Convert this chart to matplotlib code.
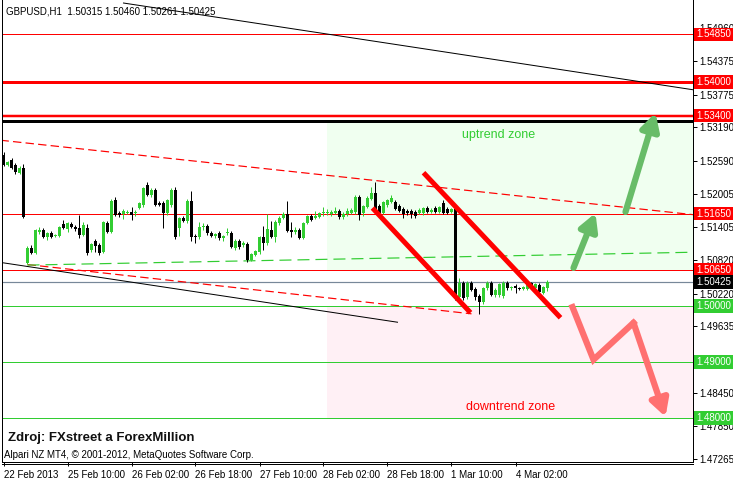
import numpy as np
import matplotlib
matplotlib.use('Agg')
import matplotlib.pyplot as plt
from matplotlib.transforms import blended_transform_factory
from matplotlib.lines import Line2D

plt.rcParams['font.family'] = ['Liberation Sans', 'DejaVu Sans']

# ---------------------------- data (H1 candles) ---------------------------- #
opens = [
    1.5270, 1.5252, 1.5261, 1.5252, 1.5238, 1.5246, 1.5077, 1.5104, 1.5095, 1.5132,
    1.5136, 1.5123, 1.5130, 1.5125, 1.5125, 1.5146, 1.5138, 1.5146, 1.5141, 1.5139,
    1.5127, 1.5139, 1.5100, 1.5116, 1.5109, 1.5096, 1.5148, 1.5132, 1.5189, 1.5166,
    1.5164, 1.5166, 1.5168, 1.5166, 1.5175, 1.5180, 1.5216, 1.5198, 1.5207, 1.5184,
    1.5184, 1.5166, 1.5180, 1.5207, 1.5139, 1.5157, 1.5152, 1.5188, 1.5125, 1.5123,
    1.5141, 1.5143, 1.5130, 1.5125, 1.5130, 1.5121, 1.5130, 1.5130, 1.5104, 1.5116,
    1.5109, 1.5111, 1.5082, 1.5091, 1.5096, 1.5123, 1.5113, 1.5136, 1.5123, 1.5148,
    1.5157, 1.5164, 1.5136, 1.5132, 1.5136, 1.5121, 1.5148, 1.5161, 1.5157, 1.5159,
    1.5166, 1.5166, 1.5164, 1.5166, 1.5170, 1.5159, 1.5164, 1.5166, 1.5168, 1.5195,
    1.5166, 1.5177, 1.5191, 1.5202, 1.5179, 1.5166, 1.5180, 1.5186, 1.5186, 1.5179,
    1.5173, 1.5170, 1.5170, 1.5168, 1.5166, 1.5166, 1.5175, 1.5168, 1.5175, 1.5168,
    1.5184, 1.5173, 1.5168, 1.5173, 1.5016, 1.5041, 1.5016, 1.5041, 1.5030, 1.5018,
    1.5007, 1.5032, 1.5041, 1.5020, 1.5020, 1.5018, 1.5041, 1.5032, 1.5036, 1.5032,
    1.5030, 1.5030, 1.5041, 1.5032, 1.5038, 1.5023, 1.50315]
highs = [
    1.5275, 1.5259, 1.5264, 1.5255, 1.5250, 1.5254, 1.5107, 1.5109, 1.5138, 1.5141,
    1.5139, 1.5132, 1.5134, 1.5129, 1.5143, 1.5154, 1.5150, 1.5150, 1.5145, 1.5163,
    1.5150, 1.5146, 1.5113, 1.5120, 1.5113, 1.5152, 1.5152, 1.5191, 1.5195, 1.5170,
    1.5173, 1.5171, 1.5177, 1.5171, 1.5186, 1.5213, 1.5221, 1.5211, 1.5211, 1.5188,
    1.5188, 1.5191, 1.5211, 1.5213, 1.5159, 1.5161, 1.5191, 1.5205, 1.5129, 1.5150,
    1.5148, 1.5146, 1.5134, 1.5130, 1.5134, 1.5127, 1.5139, 1.5134, 1.5120, 1.5120,
    1.5116, 1.5114, 1.5095, 1.5100, 1.5125, 1.5143, 1.5164, 1.5152, 1.5154, 1.5161,
    1.5168, 1.5188, 1.5150, 1.5141, 1.5139, 1.5150, 1.5163, 1.5164, 1.5170, 1.5168,
    1.5177, 1.5173, 1.5171, 1.5177, 1.5173, 1.5168, 1.5175, 1.5175, 1.5198, 1.5198,
    1.5180, 1.5196, 1.5213, 1.5221, 1.5182, 1.5188, 1.5191, 1.5198, 1.5189, 1.5182,
    1.5177, 1.5173, 1.5173, 1.5171, 1.5175, 1.5177, 1.5179, 1.5175, 1.5179, 1.5179,
    1.5189, 1.5177, 1.5175, 1.5177, 1.5050, 1.5045, 1.5045, 1.5045, 1.5034, 1.5021,
    1.5034, 1.5045, 1.5045, 1.5032, 1.5041, 1.5045, 1.5045, 1.5036, 1.5039, 1.5034,
    1.5036, 1.5043, 1.5043, 1.5041, 1.5041, 1.5036, 1.50460]
lows = [
    1.5250, 1.5250, 1.5244, 1.5236, 1.5236, 1.5157, 1.5075, 1.5093, 1.5093, 1.5129,
    1.5121, 1.5118, 1.5121, 1.5123, 1.5123, 1.5138, 1.5132, 1.5139, 1.5134, 1.5121,
    1.5125, 1.5091, 1.5096, 1.5096, 1.5091, 1.5094, 1.5130, 1.5130, 1.5161, 1.5159,
    1.5155, 1.5164, 1.5154, 1.5161, 1.5173, 1.5177, 1.5196, 1.5195, 1.5179, 1.5179,
    1.5139, 1.5163, 1.5177, 1.5120, 1.5125, 1.5150, 1.5148, 1.5116, 1.5113, 1.5120,
    1.5136, 1.5127, 1.5123, 1.5121, 1.5118, 1.5116, 1.5127, 1.5104, 1.5100, 1.5102,
    1.5105, 1.5079, 1.5080, 1.5089, 1.5093, 1.5100, 1.5109, 1.5121, 1.5114, 1.5145,
    1.5155, 1.5132, 1.5123, 1.5129, 1.5120, 1.5120, 1.5146, 1.5152, 1.5155, 1.5157,
    1.5161, 1.5163, 1.5161, 1.5164, 1.5155, 1.5155, 1.5161, 1.5164, 1.5164, 1.5154,
    1.5161, 1.5175, 1.5189, 1.5171, 1.5163, 1.5164, 1.5177, 1.5184, 1.5171, 1.5168,
    1.5157, 1.5163, 1.5157, 1.5157, 1.5164, 1.5163, 1.5166, 1.5166, 1.5166, 1.5166,
    1.5164, 1.5164, 1.5166, 1.5011, 1.5013, 1.5011, 1.5013, 1.5027, 1.5011, 1.4986,
    1.5004, 1.5029, 1.5018, 1.5016, 1.5016, 1.5014, 1.5029, 1.5029, 1.5023, 1.5029,
    1.5029, 1.5029, 1.5032, 1.5030, 1.5020, 1.5021, 1.50261]
closes = [
    1.5252, 1.5257, 1.5246, 1.5239, 1.5246, 1.5159, 1.5104, 1.5095, 1.5136, 1.5136,
    1.5123, 1.5130, 1.5123, 1.5127, 1.5141, 1.5139, 1.5148, 1.5141, 1.5138, 1.5127,
    1.5145, 1.5095, 1.5111, 1.5107, 1.5095, 1.5150, 1.5132, 1.5188, 1.5163, 1.5163,
    1.5170, 1.5168, 1.5163, 1.5168, 1.5184, 1.5211, 1.5198, 1.5207, 1.5180, 1.5180,
    1.5166, 1.5189, 1.5207, 1.5123, 1.5157, 1.5152, 1.5188, 1.5123, 1.5123, 1.5141,
    1.5143, 1.5130, 1.5125, 1.5129, 1.5121, 1.5125, 1.5132, 1.5105, 1.5116, 1.5105,
    1.5113, 1.5082, 1.5093, 1.5098, 1.5123, 1.5113, 1.5138, 1.5123, 1.5150, 1.5157,
    1.5164, 1.5134, 1.5132, 1.5136, 1.5121, 1.5148, 1.5161, 1.5154, 1.5161, 1.5166,
    1.5168, 1.5168, 1.5168, 1.5170, 1.5159, 1.5164, 1.5170, 1.5171, 1.5195, 1.5163,
    1.5179, 1.5193, 1.5202, 1.5173, 1.5166, 1.5186, 1.5189, 1.5193, 1.5173, 1.5170,
    1.5164, 1.5166, 1.5164, 1.5161, 1.5171, 1.5175, 1.5168, 1.5171, 1.5168, 1.5177,
    1.5166, 1.5166, 1.5173, 1.5014, 1.5041, 1.5014, 1.5041, 1.5029, 1.5016, 1.5007,
    1.5032, 1.5041, 1.5020, 1.5029, 1.5039, 1.5041, 1.5032, 1.5033, 1.5032, 1.5030,
    1.5034, 1.5041, 1.5034, 1.5039, 1.5025, 1.5034, 1.50425]

time_ticks = [0, 16, 32, 48, 64, 80, 96, 112, 128]
time_labels = ['22 Feb 2013', '25 Feb 10:00', '26 Feb 02:00', '26 Feb 18:00',
               '27 Feb 10:00', '28 Feb 02:00', '28 Feb 18:00', '1 Mar 10:00',
               '4 Mar 02:00']
price_ticks = [1.54960, 1.54375, 1.53775, 1.53190, 1.52590, 1.52005, 1.51405,
               1.50820, 1.50220, 1.49635, 1.48450, 1.47850, 1.47265]

# horizontal levels
red_levels = [1.5485, 1.5400, 1.5340, 1.5165, 1.5065]
red_widths = [1, 3, 2.5, 1, 1]
green_levels = [1.5000, 1.4900, 1.4800]
black_level = 1.53305
bid = 1.50425

# trend lines (bar index, price)
black_top = ([30, 172.5], [1.5541, 1.5386])
black_low = ([0, 98.5], [1.5077, 1.4971])
red_dash_up = ([-0.75, 172.5], [1.5296, 1.5163])
red_dash_low = ([6, 117], [1.5074, 1.4986])
green_dash = ([6, 172.5], [1.5073, 1.5096])
channel_a = ([92.25, 116.75], [1.5175, 1.4988])
channel_b = ([105, 139.25], [1.5238, 1.4979])

# zones
zone_start = 81
up_zone = (1.5065, 1.53305)
down_zone = (1.4800, 1.5000)

# arrows
green_arrows = [((142.5, 1.5068), (148, 1.5166)), ((155.5, 1.5168), (163, 1.5345))]
red_path_x = [142.25, 147.5, 157.5, 165.5]
red_path_y = [1.4998, 1.4904, 1.4970, 1.4802]

PX = 0.72  # points per pixel at dpi 100

fig = plt.figure(figsize=(7.33, 4.82), dpi=100)
ax = fig.add_axes([2/733, 20/482, 691/733, 462/482])
ax.set_xlim(-0.375, 172.375)
ax.set_ylim(1.47214, 1.55464)

# zones
ax.fill_between([zone_start, 173], up_zone[0], up_zone[1], color='#F0FFF0', lw=0, zorder=0)
ax.fill_between([zone_start, 173], down_zone[0], down_zone[1], color='#FFF0F5', lw=0, zorder=0)
ax.text(123.75, 1.53054, 'uptrend zone', color='#32CD32', fontsize=9, ha='center', va='center')
ax.text(126.75, 1.48196, 'downtrend zone', color='red', fontsize=9, ha='center', va='center')

# horizontal lines
for lv, w in zip(red_levels, red_widths):
    ax.axhline(lv, color='red', lw=w*PX, zorder=1)
for lv in green_levels:
    ax.axhline(lv, color='#32CD32', lw=PX, zorder=1)
ax.axhline(black_level, color='black', lw=3*PX, zorder=1)
ax.axhline(bid, color='#778899', lw=1.2*PX, zorder=1)

# trend lines
ax.plot(*black_top, color='black', lw=PX, zorder=1)
ax.plot(*black_low, color='black', lw=PX, zorder=1)
ax.plot(*red_dash_up, color='red', lw=1.2*PX, ls=(0, (7, 3.5)), zorder=1)
ax.plot(*red_dash_low, color='red', lw=1.2*PX, ls=(0, (7, 3.5)), zorder=1)
ax.plot(*green_dash, color='#32CD32', lw=1.2*PX, ls=(0, (10, 5)), zorder=1)

# candles
x = np.arange(len(opens))
o = np.array(opens); h = np.array(highs); l = np.array(lows); c = np.array(closes)
up = c >= o
cols = np.where(up, '#32CD32', 'black')
ax.vlines(x, l, h, colors=cols, lw=PX, zorder=3)
body = np.maximum(np.abs(c - o), 0.00016)
ax.bar(x, body, bottom=np.minimum(o, c), width=0.75, color=cols, lw=0, zorder=3)

# channel
ax.plot(*channel_a, color='red', lw=5*PX, solid_capstyle='butt', zorder=4)
ax.plot(*channel_b, color='red', lw=5*PX, solid_capstyle='butt', zorder=4)

# arrows
head = '-|>,head_length=1.0,head_width=0.55'
for start, tip in green_arrows:
    ax.annotate('', xy=tip, xytext=start, zorder=5,
                arrowprops=dict(arrowstyle=head, lw=4.5, color='#68BC68',
                                shrinkA=0, shrinkB=0, mutation_scale=10))
ax.plot(red_path_x[:3], red_path_y[:3], color='#FF7070', lw=4.5, zorder=5,
        solid_joinstyle='miter')
ax.annotate('', xy=(red_path_x[3], red_path_y[3]), xytext=(red_path_x[2], red_path_y[2]),
            zorder=5, arrowprops=dict(arrowstyle=head, lw=4.5, color='#FF7070',
                                      shrinkA=0, shrinkB=0, mutation_scale=10))

# axes
ax.spines['top'].set_visible(False)
for s in ['left', 'right', 'bottom']:
    ax.spines[s].set_linewidth(PX)
ax.yaxis.tick_right()
ax.set_yticks(price_ticks)
ax.set_yticklabels(['%.5f' % p for p in price_ticks])
ax.set_xticks(time_ticks)
ax.set_xticklabels(time_labels, ha='left')
ax.tick_params(axis='both', labelsize=7, length=3, width=PX, pad=1.5, direction='out')
ax.tick_params(axis='x', pad=2.5)
fig.add_artist(Line2D([2/733, 693/733], [18/482, 18/482], color='black', lw=PX))

# price labels on the axis
trans = blended_transform_factory(ax.transAxes, ax.transData)
boxes = [(1.5485, 'red'), (1.5400, 'red'), (1.5340, 'red'), (1.5165, 'red'),
         (1.5065, 'red'), (bid, 'black'), (1.5000, '#32CD32'), (1.4900, '#32CD32'),
         (1.4800, '#32CD32')]
for lv, fc in boxes:
    ax.text(1.0 + 3/691, lv, '%.5f' % lv, transform=trans, color='white', fontsize=7,
            ha='left', va='center', zorder=10, clip_on=False,
            bbox=dict(boxstyle='square,pad=0.18', fc=fc, ec='none'))

# texts
fig.text(6/733, 1 - 12/482, 'GBPUSD,H1  1.50315 1.50460 1.50261 1.50425', fontsize=7,
         va='center', ha='left')
fig.text(8/733, 1 - 438/482, 'Zdroj: FXstreet a ForexMillion', fontsize=9.5,
         fontweight='bold', va='center', ha='left', color='#111111')
fig.text(4/733, 1 - 455/482, 'Alpari NZ MT4, \u00a9 2001-2012, MetaQuotes Software Corp.',
         fontsize=7, va='center', ha='left')

fig.savefig('out.png', dpi=100)
